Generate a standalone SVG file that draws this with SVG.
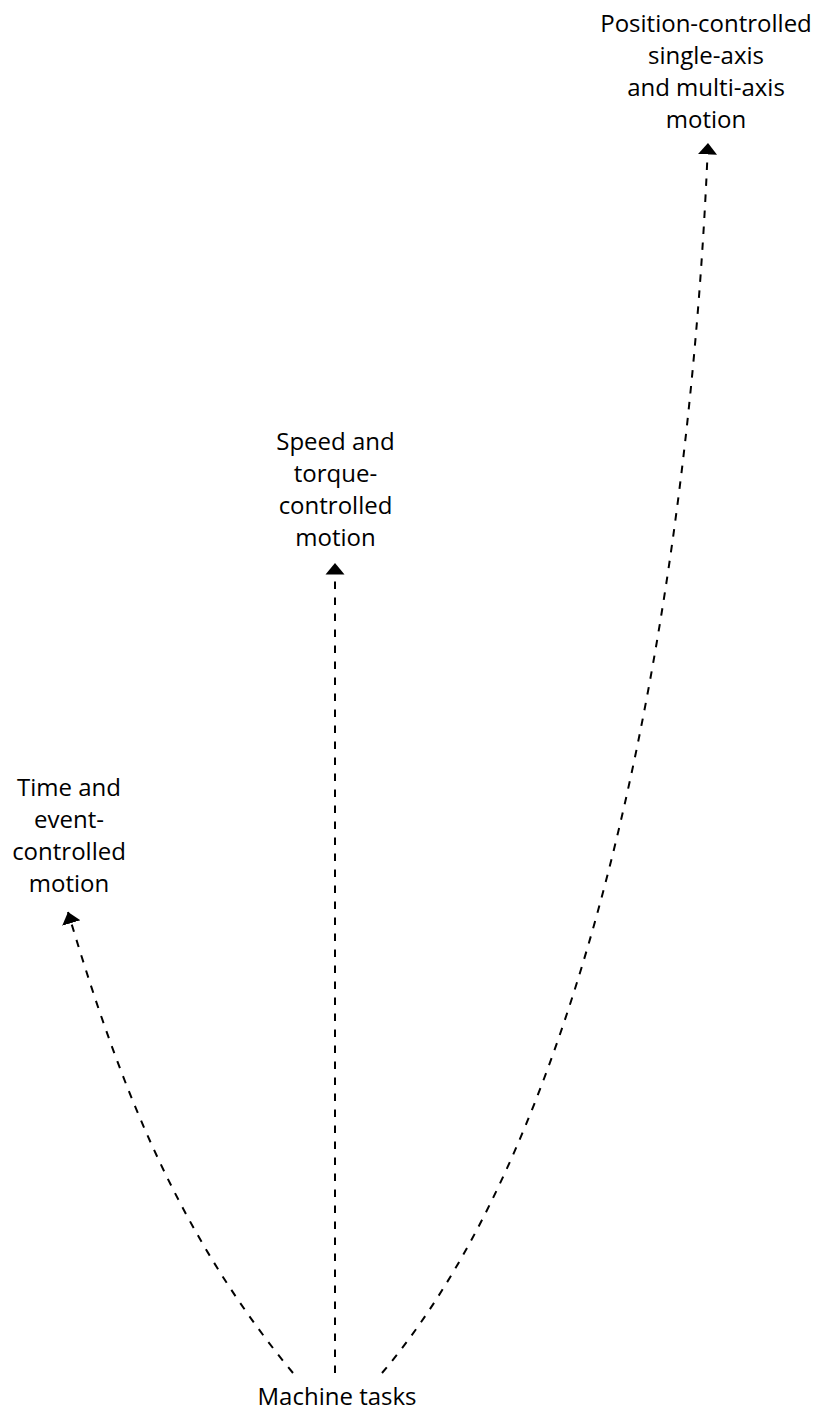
<svg xmlns="http://www.w3.org/2000/svg" width="818" height="1412" viewBox="0 0 818 1412">
<style>
.lbl{font-family:"Open Sans","Noto Sans","Liberation Sans",sans-serif;font-size:24px;fill:#000;text-anchor:middle}
.conn{fill:none;stroke:#000;stroke-width:2;stroke-dasharray:7.5 8.5}
</style>
<defs>
<marker id="ah" markerWidth="13" markerHeight="21" refX="11.5" refY="10" orient="auto" markerUnits="userSpaceOnUse">
<path d="M0,0.5 L11.5,10 L0,19.5 Z" fill="#000"/>
</marker>
</defs>
<rect width="818" height="1412" fill="#fff"/>
<g id="connectors">
<path class="conn" d="M293,1373 C168.5,1223 113,1062 68,912" marker-end="url(#ah)"/>
<path class="conn" d="M335,1373 L335,563" marker-end="url(#ah)"/>
<path class="conn" d="M382,1373 C594.5,1123 690,593 708,143" marker-end="url(#ah)"/>
</g>
<g id="node-machine">
<text class="lbl" x="337" y="1405">Machine tasks</text>
</g>
<g id="node-time">
<text class="lbl" x="69" y="796">Time and</text>
<text class="lbl" x="69" y="828">event-</text>
<text class="lbl" x="69" y="860">controlled</text>
<text class="lbl" x="69" y="892">motion</text>
</g>
<g id="node-speed">
<text class="lbl" x="335.5" y="450">Speed and</text>
<text class="lbl" x="335.5" y="482">torque-</text>
<text class="lbl" x="335.5" y="514">controlled</text>
<text class="lbl" x="335.5" y="546">motion</text>
</g>
<g id="node-position">
<text class="lbl" x="706" y="32">Position-controlled</text>
<text class="lbl" x="706" y="64">single-axis</text>
<text class="lbl" x="706" y="96">and multi-axis</text>
<text class="lbl" x="706" y="128">motion</text>
</g>
</svg>
